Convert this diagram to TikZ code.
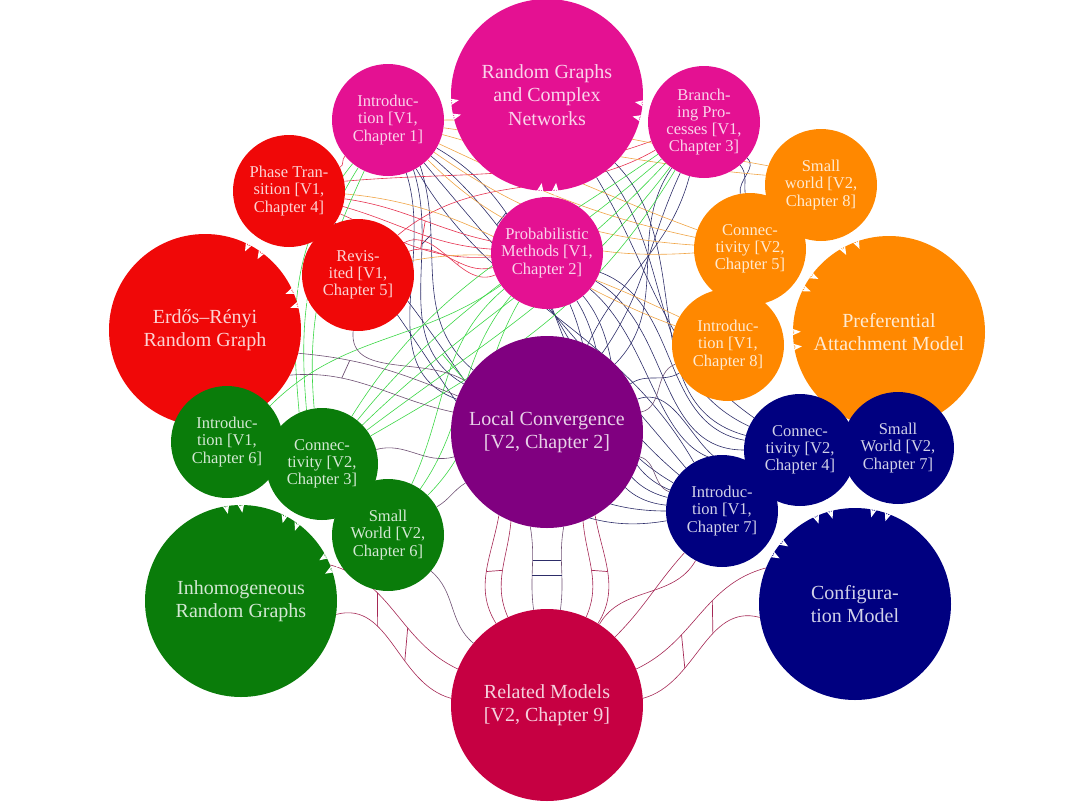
\documentclass[tikz,border=0pt]{standalone}
\usepackage{fontspec}
\setmainfont{Liberation Serif}
\usetikzlibrary{arrows.meta,backgrounds}
\definecolor{cmag}{RGB}{228,17,146}
\definecolor{cred}{RGB}{240,8,8}
\definecolor{corg}{RGB}{255,136,0}
\definecolor{cpur}{RGB}{128,0,128}
\definecolor{cgrn}{RGB}{10,124,10}
\definecolor{cnav}{RGB}{0,0,128}
\definecolor{ccrm}{RGB}{198,0,66}
\definecolor{lnav}{RGB}{45,45,105}
\definecolor{lred}{RGB}{230,50,80}
\definecolor{lorg}{RGB}{240,165,70}
\definecolor{lgrn}{RGB}{60,215,70}
\definecolor{lpur}{RGB}{110,80,115}
\definecolor{lcrm}{RGB}{165,40,85}
\tikzset{
  big/.style={circle,fill=#1,text=#1!18!white,minimum size=192pt,inner sep=0pt,align=center,font=\fontsize{20}{23.5}\selectfont},
  small/.style={circle,fill=#1,text=#1!18!white,minimum size=112pt,inner sep=0pt,align=center,font=\fontsize{16.5}{17.2}\selectfont},
  cn/.style={line width=0.6pt,draw=#1},
  rung/.style={line width=0.7pt,draw=#1},
  tipline/.style={white,line width=1pt,-{Stealth[length=9pt,width=7pt]},shorten >=-8pt},
}
\begin{document}
\begin{tikzpicture}[x=1pt,y=1pt]
\useasboundingbox (0,0) rectangle (1080,-807);
% big circles
\node[big=cmag] (RG) at (547,-95) {Random Graphs\\and Complex\\Networks};
\node[big=cred] (ER) at (205,-330) {Erdős–Rényi\\Random Graph};
\node[big=corg] (PA) at (889,-332) {Preferential\\Attachment Model};
\node[big=cpur] (LC) at (547,-432) {Local Convergence\\{}[V2, Chapter 2]};
\node[big=cgrn] (IRG) at (241,-601) {Inhomogeneous\\Random Graphs};
\node[big=cnav] (CM) at (855,-604) {Configura-\\tion Model};
\node[big=ccrm] (RM) at (547,-705) {Related Models\\{}[V2, Chapter 9]};
% small circles
\node[small=cmag] (I1) at (388,-120) {Introduc-\\tion [V1,\\Chapter 1]};
\node[small=cmag] (BP) at (704,-122) {Branch-\\ing Pro-\\cesses [V1,\\Chapter 3]};
\node[small=cmag] (PM) at (547,-253) {Probabilistic\\Methods [V1,\\Chapter 2]};
\node[small=cred] (PT) at (289,-191) {Phase Tran-\\sition [V1,\\Chapter 4]};
\node[small=cred] (RV) at (358,-275) {Revis-\\ited [V1,\\Chapter 5]};
\node[small=corg] (SW8) at (821,-185) {Small\\world [V2,\\Chapter 8]};
\node[small=corg] (C5) at (750,-249) {Connec-\\tivity [V2,\\Chapter 5]};
\node[small=corg] (I8) at (728,-345) {Introduc-\\tion [V1,\\Chapter 8]};
\node[small=cgrn] (I6) at (227,-442) {Introduc-\\tion [V1,\\Chapter 6]};
\node[small=cgrn] (C3) at (322,-464) {Connec-\\tivity [V2,\\Chapter 3]};
\node[small=cgrn] (SW6) at (388,-535) {Small\\World [V2,\\Chapter 6]};
\node[small=cnav] (C4) at (800,-450) {Connec-\\tivity [V2,\\Chapter 4]};
\node[small=cnav] (SW7) at (898,-448) {Small\\World [V2,\\Chapter 7]};
\node[small=cnav] (I7) at (722,-511) {Introduc-\\tion [V1,\\Chapter 7]};

% white arrow tips
\draw[tipline] (I1.17) -- (RG.184.5);   \draw[tipline] (I1.1) -- (RG.193.5);
\draw[tipline] (BP.178) -- (RG.-14.5);  \draw[tipline] (BP.162) -- (RG.-5.5);
\draw[tipline] (PM.98) -- (RG.-94.5);   \draw[tipline] (PM.82) -- (RG.-85.5);
\draw[tipline] (PT.-113) -- (ER.54.5);  \draw[tipline] (PT.-129) -- (ER.63.5);
\draw[tipline] (RV.-152) -- (ER.15.5);  \draw[tipline] (RV.-168) -- (ER.24.5);
\draw[tipline] (SW8.-57) -- (PA.110.5); \draw[tipline] (SW8.-73) -- (PA.119.5);
\draw[tipline] (C5.-23) -- (PA.144.5);  \draw[tipline] (C5.-39) -- (PA.153.5);
\draw[tipline] (I8.13) -- (PA.180.5);   \draw[tipline] (I8.-3) -- (PA.189.5);
\draw[tipline] (I7.-27) -- (CM.140.5);  \draw[tipline] (I7.-43) -- (CM.149.5);
\draw[tipline] (C4.-62) -- (CM.105.5);  \draw[tipline] (C4.-78) -- (CM.114.5);
\draw[tipline] (SW7.-97) -- (CM.70.5);  \draw[tipline] (SW7.-113) -- (CM.79.5);
\draw[tipline] (I6.-77) -- (IRG.90.5);  \draw[tipline] (I6.-93) -- (IRG.99.5);
\draw[tipline] (C3.-113) -- (IRG.54.5); \draw[tipline] (C3.-129) -- (IRG.63.5);
\draw[tipline] (SW6.-148) -- (IRG.19.5);\draw[tipline] (SW6.-164) -- (IRG.28.5);

\begin{scope}[on background layer]
% navy bundles
\foreach \a/\b/\n in {-30/150/1,-40/140/2,-50/130/3,-60/120/4}
  \draw[cn=lnav] (I1.\a) to[out=\a,in=\b] coordinate[pos=.22] (na\n) (I7.\b);
\draw[rung=lnav] (na1) -- (na2);
\foreach \a/\b in {-45/165,-52/155,-59/145}
  \draw[cn=lnav] (RG.\a) to[out=\a,in=\b] (C4.\b);
\foreach \a/\b in {-105/65,-115/55,-125/45}
  \draw[cn=lnav] (BP.\a) to[out=\a,in=\b] (LC.\b);
\foreach \a/\b/\n in {-55/140/1,-63/150/2,-71/160/3}
  \draw[cn=lnav] (I1.\a) to[out=-72,in=\b] coordinate[pos=.3] (nb\n) (LC.\b);
\draw[rung=lnav] (nb1) -- (nb2);
\foreach \a/\b in {-20/170,-30/180,-40/190}
  \draw[cn=lnav] (PM.\a) to[out=\a,in=\b] (C4.\b);
\foreach \a/\b in {-50/158,-58/166,-66/174}
  \draw[cn=lnav] (PM.\a) to[out=\a,in=\b] (I7.\b);
\foreach \a/\b in {-40/100,-50/95}
  \draw[cn=lnav] (BP.\a) to[out=\a,in=\b] (C5.\b);
\draw[cn=lnav] (LC.20) to[out=20,in=195] (C4.195);
\draw[cn=lnav] (LC.30) to[out=35,in=-150] (I8.-150);
\draw[cn=lnav] (PT.-35) to[out=-40,in=180] (I7.180);
\draw[cn=lnav] (PT.-45) to[out=-45,in=190] (I7.190);
% red bundles
\foreach \a/\b/\n in {-8/168/1,-16/176/2,-24/184/3}
  \draw[cn=lred] (PT.\a) to[out=\a,in=\b] coordinate[pos=.55] (pa\n) (PM.\b);
\draw[rung=lred] (pa1) -- (pa2);
\draw[rung=lred] (pa2) -- (pa3);
\draw[cn=lred] (RV.25) to[out=20,in=195] coordinate[pos=.6] (ra1) (PM.195);
\draw[cn=lred] (RV.35) to[out=28,in=203] coordinate[pos=.6] (ra2) (PM.203);
\draw[rung=lred] (ra1) -- (ra2);
\draw[cn=lred] (RV.45) to[out=40,in=-150] (BP.-150);
\draw[cn=lred] (PT.10) to[out=5,in=-160] (BP.-160);
\draw[cn=lred] (PT.25) to[out=20,in=-140] (I1.-140);
% orange bundles
\foreach \a/\b in {160/-15,168/-25,176/-35,184/-45}
  \draw[cn=lorg] (C5.\a) to[out=\a,in=\b] (I1.\b);
\draw[cn=lorg] (SW8.170) to[out=175,in=-8] (I1.-8);
\draw[cn=lorg] (SW8.160) to[out=170,in=0] (I1.0);
\draw[cn=lorg] (I8.160) to[out=160,in=-5] (PT.-3);
\draw[cn=lorg] (I8.150) to[out=155,in=10] (RV.15);
% green bundles
\foreach \a/\b/\n in {30/-121/1,37/-127/2,44/-133/3,51/-139/4,58/-145/5}
  \draw[cn=lgrn] (C3.\a) to[out=\a,in=\b] coordinate[pos=.25] (ga\n) (BP.\b);
\draw[rung=lgrn] (ga1) -- (ga3);
\foreach \a/\b in {45/-120,55/-130,65/-140}
  \draw[cn=lgrn] (SW6.\a) to[out=\a,in=\b] (PM.\b);
\foreach \a/\b in {98/-115,106/-122,114/-129}
  \draw[cn=lgrn] (C3.\a) to[out=95,in=\b] (I1.\b);
\draw[cn=lgrn] (I6.40) to[out=45,in=-145] (PM.-145);
% purple-gray
\draw[cn=lpur] (ER.-28) to[out=5,in=168] coordinate[pos=.3] (ea1) (LC.168);
\draw[cn=lpur] (ER.-14) to[out=-5,in=158] coordinate[pos=.3] (ea2) (LC.158);
\draw[rung=lpur] (ea1) -- (ea2);
\draw[cn=lpur] (RV.-95) to[out=-95,in=148] (LC.148);
\draw[cn=lpur] (C3.15) to[out=15,in=195] (LC.195);
\draw[cn=lpur] (SW6.30) to[out=30,in=212] (LC.212);
\draw[cn=lpur] (I7.160) to[out=160,in=-15] (LC.-15);
\draw[cn=lpur] (I8.-160) to[out=200,in=12] (LC.12);
% crimson
\draw[cn=lcrm] (IRG.22) to[out=-15,in=155] coordinate[pos=.33] (g1) coordinate[pos=.62] (g3) (RM.158);
\draw[cn=lcrm] (IRG.-8) to[out=15,in=165] coordinate[pos=.33] (g2) coordinate[pos=.62] (g4) (RM.176);
\draw[rung=lcrm] (g1) -- (g2);
\draw[rung=lcrm] (g3) -- (g4);
\draw[cn=lcrm] (CM.158) to[out=195,in=25] coordinate[pos=.38] (m1) coordinate[pos=.67] (m3) (RM.22);
\draw[cn=lcrm] (CM.188) to[out=165,in=15] coordinate[pos=.38] (m2) coordinate[pos=.67] (m4) (RM.4);
\draw[rung=lcrm] (m1) -- (m2);
\draw[rung=lcrm] (m3) -- (m4);
\draw[cn=lcrm] (I7.-132) to[out=-132,in=45] coordinate[pos=.45] (k1) (RM.45);
\draw[cn=lcrm] (I7.-118) to[out=-120,in=60] coordinate[pos=.45] (k2) (RM.57);
\draw[rung=lcrm] (k1) -- (k2);
\draw[cn=lcrm] (LC.-120) to[out=-100,in=122] coordinate[pos=.5] (l1) (RM.122);
\draw[cn=lcrm] (LC.-112) to[out=-95,in=114] coordinate[pos=.5] (l2) (RM.114);
\draw[rung=lcrm] (l1) -- (l2);
\draw[cn=lcrm] (LC.-60) to[out=-80,in=58] coordinate[pos=.5] (l3) (RM.58);
\draw[cn=lcrm] (LC.-68) to[out=-85,in=66] coordinate[pos=.5] (l4) (RM.66);
\draw[rung=lcrm] (l3) -- (l4);
\draw[cn=lpur] (LC.-100) to[out=-80,in=98] coordinate[pos=.4] (q1) coordinate[pos=.6] (q3) (RM.98);
\draw[cn=lpur] (LC.-80) to[out=-100,in=82] coordinate[pos=.4] (q2) coordinate[pos=.6] (q4) (RM.82);
\draw[rung=lnav] (q1) -- (q2);
\draw[rung=lnav] (q3) -- (q4);
\draw[cn=lpur] (SW6.-40) to[out=-40,in=140] (RM.140);
\end{scope}
\end{tikzpicture}
\end{document}
